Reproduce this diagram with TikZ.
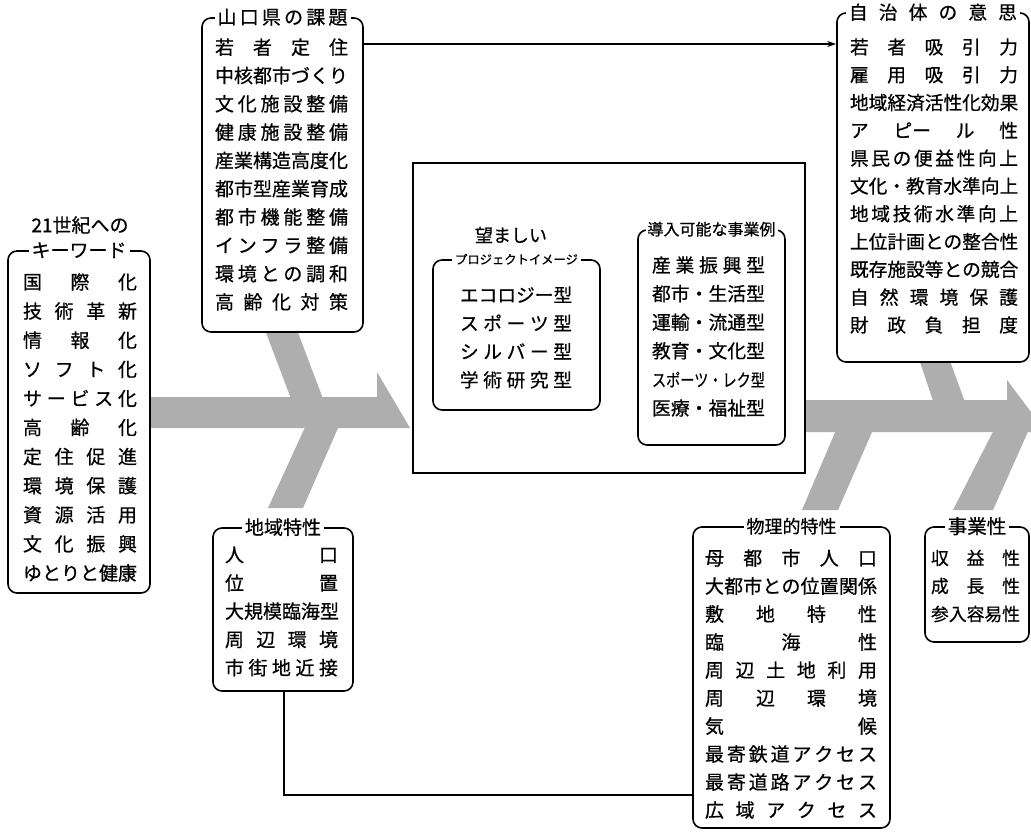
\documentclass[tikz,border=0pt]{standalone}
\usepackage{fontspec}
\usepackage{graphicx}
\newfontfamily\jp[FakeBold=0.6]{Noto Sans CJK JP}
\usetikzlibrary{arrows.meta}
\definecolor{spinegray}{RGB}{174,174,174}
\makeatletter
\def\spr#1{\spr@a#1\@nil}
\def\spr@a#1#2{#1\ifx\@nil#2\else\hfill\expandafter\spr@a\expandafter#2\fi}
\makeatother
\newdimen\rowW
\newcommand\R[1]{\hbox to\rowW{\spr{#1}}}
\newcommand\Rm[1]{\hbox to\rowW{#1}}
\tikzset{
  box/.style={draw, line width=1.6pt, rounded corners=9pt, fill=white, inner sep=0pt},
  frame/.style={draw, line width=1.5pt, fill=white, inner sep=0pt},
  ttl/.style={fill=white, inner xsep=3pt, inner ysep=1pt, font=\jp\fontsize{19}{19}\selectfont},
  plain/.style={inner sep=0pt, font=\jp\fontsize{19}{19}\selectfont},
  rows/.style n args={3}{inner sep=0pt, align=center, font={\jp\fontsize{#2}{#3}\selectfont\rowW=#1pt\relax}},
  link/.style={line width=1.3pt},
  fish/.style={fill=spinegray, draw=none}
}
\begin{document}
\begin{tikzpicture}[x=1pt,y=-1pt]
\useasboundingbox (0,0) rectangle (1031,834);
\clip (0,0) rectangle (1031,834);
\fill[white] (0,0) rectangle (1031,834);
% fishbone
\fill[fish] (140,397) -- (377,397) -- (377,372) -- (410,428) -- (140,428) -- cycle;
\fill[fish] (262,322) -- (294,322) -- (328,412) -- (296,412) -- cycle;
\fill[fish] (312,412) -- (345,412) -- (303,508) -- (268,508) -- cycle;
\fill[fish] (800,400) -- (1007,400) -- (1007,380) -- (1046,432) -- (800,432) -- cycle;
\fill[fish] (916,350) -- (946,350) -- (970,416) -- (938,416) -- cycle;
\fill[fish] (842,416) -- (879,416) -- (838,510) -- (802,510) -- cycle;
\fill[fish] (1001,416) -- (1035,416) -- (993,510) -- (953,510) -- cycle;
% boxes
\node[box, minimum width=142, minimum height=342] (kwbox) at (79,422) {};
\node[box, minimum width=161, minimum height=314] (kadai) at (282.5,175) {};
\node[box, minimum width=192, minimum height=349] (ishi) at (933,187.5) {};
\node[frame, minimum width=392, minimum height=310] (center) at (609,318) {};
\node[box, minimum width=167, minimum height=150] (image) at (516.5,335) {};
\node[box, minimum width=147, minimum height=215] (rei) at (711.5,337.5) {};
\node[box, minimum width=140, minimum height=163] (chiiki) at (283,609.5) {};
\node[box, minimum width=197, minimum height=301] (butsuri) at (791.5,677.5) {};
\node[box, minimum width=104, minimum height=115] (jigyo) at (977,584.5) {};
% titles
\node[plain] (kw21) at (80,225) {21世紀への};
\node[ttl] (kwttl) at (kwbox.north) {キーワード};
\node[ttl] (kadaittl) at (kadai.north) {\hbox to 130pt{\spr{山口県の課題}}};
\node[ttl, font=\jp\fontsize{18.7}{18.7}\selectfont] (ishittl) at (ishi.north) {\hbox to 168pt{\spr{自治体の意思}}};
\node[plain, font=\jp\fontsize{18}{18}\selectfont] (imgttl1) at (511,235) {望ましい};
\node[ttl, font=\jp\fontsize{12.3}{12.3}\selectfont] (imgttl2) at (image.north) {プロジェクトイメージ};
\node[ttl, inner xsep=2pt, font=\jp\fontsize{16}{16}\selectfont] (reittl) at (rei.north) {導入可能な事業例};
\node[ttl] (chiikittl) at (chiiki.north) {地域特性};
\node[ttl, font=\jp\fontsize{18}{18}\selectfont] (butsurittl) at (butsuri.north) {物理的特性};
\node[ttl, font=\jp\fontsize{19.5}{19.5}\selectfont] (jigyottl) at (jigyo.north) {事業性};
% rows
\node[rows={114}{19}{29.1}] (kwrows) at (80,427.5) {\R{国際化}\\ \R{技術革新}\\ \R{情報化}\\ \R{ソフト化}\\ \R{サービス化}\\ \R{高齢化}\\ \R{定住促進}\\ \R{環境保護}\\ \R{資源活用}\\ \R{文化振興}\\ \R{ゆとりと健康}};
\node[rows={133}{19}{28.3}] (kadairows) at (281.5,174.5) {\R{若者定住}\\ \R{中核都市づくり}\\ \R{文化施設整備}\\ \R{健康施設整備}\\ \R{産業構造高度化}\\ \R{都市型産業育成}\\ \R{都市機能整備}\\ \R{インフラ整備}\\ \R{環境との調和}\\ \R{高齢化対策}};
\node[rows={168}{18.7}{27.8}] (ishirows) at (934,186) {\R{若者吸引力}\\ \R{雇用吸引力}\\ \R{地域経済活性化効果}\\ \Rm{ア\hfill ピー\hfill ル\hfill 性}\\ \R{県民の便益性向上}\\ \R{文化・教育水準向上}\\ \R{地域技術水準向上}\\ \R{上位計画との整合性}\\ \R{既存施設等との競合}\\ \R{自然環境保護}\\ \R{財政負担度}};
\node[rows={112}{18.7}{28.3}] (imagerows) at (516,337.5) {\R{エコロジー型}\\ \R{スポーツ型}\\ \R{シルバー型}\\ \R{学術研究型}};
\node[rows={113}{18.8}{28.6}] (reirows) at (708.5,336.5) {\R{産業振興型}\\ \R{都市・生活型}\\ \R{運輸・流通型}\\ \R{教育・文化型}\\ \Rm{\resizebox{\rowW}{\height}{\fontsize{17.5}{17.5}\selectfont スポーツ・レク型}}\\ \R{医療・福祉型}};
\node[rows={113}{19}{28.25}] (chiikirows) at (281.5,611.5) {\R{人口}\\ \R{位置}\\ \R{大規模臨海型}\\ \R{周辺環境}\\ \R{市街地近接}};
\node[rows={172}{19}{28}] (butsurirows) at (791,684) {\R{母都市人口}\\ \R{大都市との位置関係}\\ \R{敷地特性}\\ \R{臨海性}\\ \R{周辺土地利用}\\ \R{周辺環境}\\ \R{気候}\\ \R{最寄鉄道アクセス}\\ \R{最寄道路アクセス}\\ \R{広域アクセス}};
\node[rows={89}{17.8}{28}] (jigyorows) at (975.5,586) {\R{収益性}\\ \R{成長性}\\ \R{参入容易性}};
% connectors
\coordinate (lvl) at (0,44);
\coordinate (turn) at (284,795);
\draw[link, -{Stealth[length=9pt, width=6pt]}] (kadai.east |- lvl) -- (ishi.west |- lvl);
\draw[link] (chiiki.south -| turn) -- (turn) -- (butsuri.west |- turn);
\end{tikzpicture}
\end{document}
